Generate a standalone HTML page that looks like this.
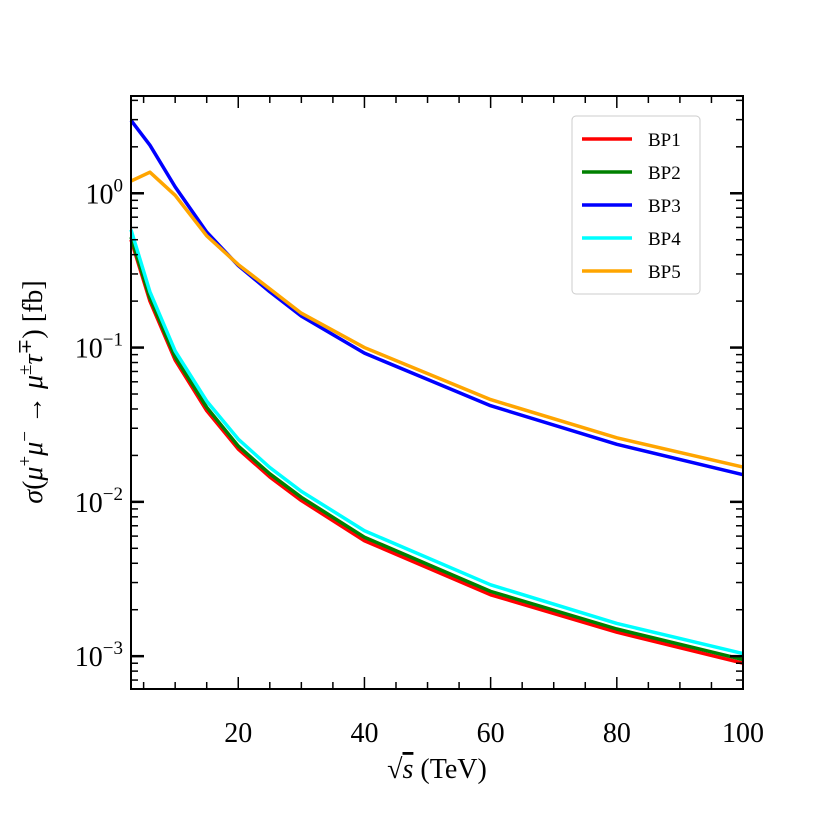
<!DOCTYPE html>
<html><head><meta charset="utf-8"><style>
body{margin:0;background:#fff;}
svg text{font-family:"Liberation Serif","DejaVu Serif",serif;fill:#000;}
</style></head><body>
<svg id="chart" width="822" height="822" viewBox="0 0 822 822" xmlns="http://www.w3.org/2000/svg">
<g id="grid"></g>
<g id="series"></g>
<rect x="131" y="96" width="612" height="593" fill="none" stroke="#000" stroke-width="2"/>
<g id="ticks"></g>
<text x="437" y="778" font-size="28" text-anchor="middle">√<tspan font-style="italic" text-decoration="overline">s</tspan> (TeV)</text>
<text transform="translate(42,392) rotate(-90)" font-size="28" text-anchor="middle"><tspan font-style="italic">σ</tspan>(<tspan font-style="italic">μ</tspan><tspan dy="-11" font-size="19">+</tspan><tspan dy="11" font-style="italic">μ</tspan><tspan dy="-11" font-size="19">−</tspan><tspan dy="11"> → </tspan><tspan font-style="italic">μ</tspan><tspan dy="-11" font-size="19">±</tspan><tspan dy="11" font-style="italic">τ</tspan><tspan dy="-11" font-size="19">∓</tspan><tspan dy="11">) [fb]</tspan></text>
<g id="legend">
<rect x="572" y="116" width="128" height="178" rx="4" fill="#fff" stroke="#ccc" stroke-width="1"/>
</g>
</svg>
<script>
const xs=[3,6,10,15,20,25,30,40,60,80,100];
const bp1=[0.5,0.2,0.083,0.039,0.022,0.0145,0.0102,0.0056,0.0025,0.00143,0.0009];
const bp2=[0.52,0.21,0.087,0.041,0.023,0.0152,0.0107,0.0059,0.00263,0.0015,0.00095];
const bp3=[2.97,2.05,1.1,0.56,0.34,0.23,0.16,0.092,0.042,0.0236,0.015];
const bp4=[0.58,0.23,0.095,0.045,0.0255,0.0167,0.0117,0.0065,0.0029,0.00163,0.00104];
const bp5=[1.2,1.37,0.97,0.53,0.345,0.24,0.167,0.1,0.046,0.026,0.0168];
const seriesNames=["BP1","BP2","BP3","BP4","BP5"];
const seriesColors=["#ff0000","#008000","#0000ff","#00ffff","#ffa500"];
const xTicks=[20,40,60,80,100];
const yTicks=[0,-1,-2,-3];
const NS="http://www.w3.org/2000/svg";
const X0=131,X1=743,Y0=96,Y1=689,xmin=3,xmax=100,lmin=-3.2128,lmax=0.6304;
function xs2px(v){return X0+(v-xmin)/(xmax-xmin)*(X1-X0);}
function ypx(v){return Y1-(Math.log10(v)-lmin)/(lmax-lmin)*(Y1-Y0);}
function mk(t,a,p){const e=document.createElementNS(NS,t);for(const k in a)e.setAttribute(k,a[k]);p.appendChild(e);return e;}
const sg=document.getElementById('series');
[bp1,bp2,bp3,bp4,bp5].forEach((d,i)=>{
 const p=mk('polyline',{points:d.map((v,j)=>xs2px(xs[j])+','+ypx(v)).join(' '),fill:'none',stroke:seriesColors[i],'stroke-width':3.5,'stroke-linejoin':'round'},sg);
 
 
});
const tg=document.getElementById('ticks');
for(let v=5;v<=100;v+=5){
 const x=xs2px(v),maj=xTicks.includes(v),L=maj?12:7;
 mk('line',{x1:x,x2:x,y1:Y1,y2:Y1-L,stroke:'#000','stroke-width':1.5},tg);
 mk('line',{x1:x,x2:x,y1:Y0,y2:Y0+L,stroke:'#000','stroke-width':1.5},tg);
}
xTicks.forEach(v=>{const t=mk('text',{x:xs2px(v),y:Y1+53,'font-size':28,'text-anchor':'middle'},tg);t.textContent=v;
 
 });
for(let e=-4;e<=0;e++)for(let m=1;m<10;m++){
 const v=m*Math.pow(10,e),y=ypx(v);if(y<Y0||y>Y1)continue;
 const L=m===1?13:7;
 mk('line',{x1:X0,x2:X0+L,y1:y,y2:y,stroke:'#000','stroke-width':m===1?2.5:1.5},tg);
 mk('line',{x1:X1,x2:X1-L,y1:y,y2:y,stroke:'#000','stroke-width':m===1?2.5:1.5},tg);
}
yTicks.forEach(e=>{const t=mk('text',{x:X0-8,y:ypx(Math.pow(10,e))+10,'font-size':28,'text-anchor':'end'},tg);
 t.innerHTML='10<tspan dy="-12" font-size="19">'+(e<0?'−'+(-e):e)+'</tspan>';
 
 });
const lg=document.getElementById('legend');
seriesNames.forEach((n,i)=>{const y=139+i*33;
 mk('line',{x1:582,x2:632,y1:y,y2:y,stroke:seriesColors[i],'stroke-width':3.5},lg);
 const t=mk('text',{x:648,y:y+7,'font-size':19},lg);t.textContent=n;
 
 });
</script>
</body></html>
